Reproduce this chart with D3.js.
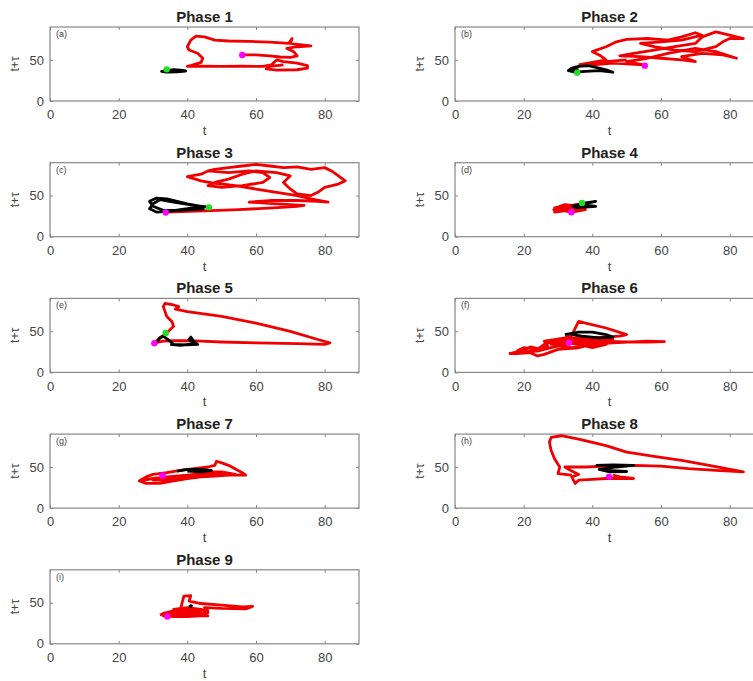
<!DOCTYPE html>
<html>
<head>
<meta charset="utf-8">
<script src="https://cdn.jsdelivr.net/npm/d3@7"></script>
<style>
  body { margin: 0; background: #fff; }
  svg { font-family: "Liberation Sans", Helvetica, Arial, sans-serif; }
  .tick text { fill: #444; font-size: 13px; }
  .tick line { stroke: #888; }
  .domain { display: none; }
</style>
</head>
<body>
<svg width="753" height="681"></svg>
<script>
// phase titles and panel letters
var phases = ["Phase 1", "Phase 2", "Phase 3", "Phase 4", "Phase 5", "Phase 6", "Phase 7", "Phase 8", "Phase 9"];
var letters = ["(a)", "(b)", "(c)", "(d)", "(e)", "(f)", "(g)", "(h)", "(i)"];
var xTicks = [0, 20, 40, 60, 80];
var yTicks = [0, 50];

// red trajectories [t, t+tau]
var red1 = [[55.4,56],[60,56],[64,55],[67,53.5],[70,53],[72,55],[71,60],[69,64],[72,66],[76,67],[72,69],[70,70],[70.5,76],[69.5,70],[64,71.5],[58,72.5],[52,73],[48,74],[45,78],[42.5,79],[41,74],[40,66],[40.5,62],[43,58],[44.5,52],[44,47],[41,43],[40,42],[44,42.5],[50,42],[56,42.5],[62,42],[64.5,44],[66,50],[68,48],[72,46],[75,43],[75,40],[72,38],[66,37.5],[63,39],[64,42],[68,44]];
var red2 = [[36,44],[40,47],[44,50],[42,56],[40,60],[44,66],[47,72],[50,75],[56,76],[62,74],[66,78],[70,83],[72,80],[66,74],[60,72],[54,70],[58,66],[64,62],[70,60],[76,66],[78,72],[80,76],[84,76],[80,80],[76,84],[72,78],[70,70],[64,66],[58,62],[52,58],[48,55],[54,54],[60,52],[66,50],[70,48],[66,54],[72,58],[78,56],[82,52],[76,60],[70,64],[62,58],[56,52],[50,48],[55,44],[46,46],[40,44],[44,48],[50,50]];
var red3 = [[33.7,30],[45,31.5],[55,33],[65,35],[72,37],[74,38],[66,40],[58,42],[64,44],[72,44],[78,43],[81,42],[76,46],[72,50],[66,54],[60,58],[54,62],[48,65],[44,68],[40,73],[44,76],[46,80],[48,82],[52,84],[56,86],[60,88],[64,86],[68,84],[72,85],[76,82],[80,84],[82,80],[84,74],[86,68],[84,64],[80,60],[78,54],[76,50],[72,52],[70,58],[68,66],[70,74],[66,78],[60,80],[56,76],[52,70],[48,66],[46,62],[50,60],[56,62],[62,66],[64,72],[62,78],[58,80],[52,78],[46,80]];
var red4 = [[28.5,32],[30,36],[32,39],[34,38],[36,39.5],[38,38],[37,35],[34,33],[31,31],[29,30],[33,32],[36,34],[35,37],[31,37],[29,35],[32,34],[36,36],[38,33],[34,30],[30,33],[33,36],[37,37],[35,31],[31,34],[29,33],[32,38],[36,38]];
var red5 = [[30.5,36],[32,42],[34,48],[36,56],[35.5,62],[34,68],[33.5,74],[33,80],[33.5,84],[36,82],[37.5,80],[36.5,77],[40,74],[50,68],[60,60],[70,50],[78,40],[81.5,36],[80,34],[72,35],[60,36],[50,37],[44,38],[40,38.5],[36,38.5],[33,38],[30.5,36]];
var red6 = [[16,23],[20,27],[22,31],[25,28],[27,32],[26,38],[29,40],[32,42],[34,45],[36,62],[38,60],[44,54],[50,46],[48,44],[40,42],[35,40],[42,38],[50,37],[56,37],[61,37.5],[56,38],[46,36],[40,34],[36,30],[30,28],[26,22],[24,20],[22,24],[18,23],[16,23],[20,25],[24,26],[28,30],[32,34],[36,38],[40,40],[44,38],[40,36],[34,36],[30,32],[34,30],[38,32],[42,34],[38,38],[34,40],[30,38],[28,34],[32,36],[36,34],[40,30],[44,34],[46,40],[42,42],[36,42],[30,40],[26,34],[24,28],[20,30],[18,26]];
var red7 = [[26,33],[28,38],[30,41],[34,43],[38,46],[42,48],[46,50],[48,52],[48.5,57],[50,55],[52,52],[56,43],[57,40],[52,40],[48,39],[44,38],[40,36],[36,33],[32,30],[28,30],[26,33],[30,36],[34,38],[40,40],[44,42],[46,44],[50,44],[54,41],[48,41],[42,40],[36,36],[30,34],[34,34],[38,38]];
var red8 = [[34,40],[30,42],[30.5,50],[29,60],[28,70],[27.5,80],[28,86],[31,88],[36,84],[44,76],[50,68],[58,63],[66,58],[74,52],[84,44],[76,46],[68,48],[60,51],[52,52],[44,51],[38,50],[32,50],[34,45],[36,41],[34,38],[35,30],[36,34],[40,35],[44,36],[48,36],[52,36],[48,38],[46,40]];
var red9 = [[32,35],[34,38],[36,40],[38,42],[38.5,50],[39,58],[41,58.5],[40.5,52],[44,49],[50,47],[56,45],[59,45.5],[57,42.5],[50,43],[45,44],[46,40],[44,34],[40,33],[36,33],[33,34],[36,36],[40,38],[44,36],[42,40],[38,40],[36,42],[40,44],[44,42],[46,38],[42,36],[38,36],[34,36],[36,38],[42,38],[44,40],[40,42],[36,40],[33,37],[38,34],[44,36],[46,34],[42,34],[38,38]];

// black trajectories
var black1 = [[32.5,36],[34,37],[36,38],[38,37.5],[39.5,36.5],[37,35.5],[34,35],[32.5,36],[35,36.5],[38,36]];
var black2 = [[33,37],[34,40],[36,42],[39,43],[41,41],[44,38],[46,35],[42,37],[38,36],[35,35],[33,37],[36,38]];
var black3 = [[47,35.5],[42,38],[36,42],[32,45],[30,40],[29,34],[31,30],[35,31],[40,34],[44,37],[40,40],[34,46],[31,47],[29,43],[30,37],[33,32],[38,32],[45,34]];
var black4 = [[34,37],[37,40],[40,42],[41,43],[38,41],[36,39],[39,38],[41,37],[38,36],[35,35.5],[39,39]];
var black5 = [[31,36],[32,42],[33,44],[35,38],[36,34],[40,33.5],[43,34],[42,37],[41,43],[40.5,40],[42,35],[38,33],[35,34]];
var black6 = [[32,46],[36,49],[40,49],[44,46],[46,43],[42,42],[37,44],[34,46]];
var black7 = [[37,45],[40,47],[44,47],[47,46],[44,44],[40,45]];
var black8 = [[41,52],[46,52.5],[52,52],[47,50],[42,47],[45,44],[50,44.5],[44,46]];
var black9 = [[40.5,45],[41,46.5],[41.5,45.5]];

// start (green) and end (magenta) markers
var greenPts = [[34,38.5],[35.6,34.5],[46.3,35.7],[37,41],[33.7,48],null,null,null,null];
var magentaPts = [[56,56],[55.3,43],[33.7,29.5],[33.9,29.8],[30.4,35.5],[33.2,36],[32.8,39.6],[44.9,38],[34.2,33.3]];

var reds = [red1, red2, red3, red4, red5, red6, red7, red8, red9];
var blacks = [black1, black2, black3, black4, black5, black6, black7, black8, black9];

var svg = d3.select("svg");
var colX = [50, 455], pw = 309, ph = 74;

phases.forEach(function(title, i) {
  var left = colX[i % 2],
      top = 27 + Math.floor(i / 2) * 135.7;

  var x = d3.scaleLinear().domain([0, 90]).range([0, pw]),
      y = d3.scaleLinear().domain([0, 90]).range([ph, 0]);

  var g = svg.append("g")
      .attr("transform", "translate(" + left + "," + top + ")");

  g.append("rect")
      .attr("width", pw).attr("height", ph)
      .attr("fill", "#fff").attr("stroke", "#888").attr("stroke-width", 1.2);

  g.append("g")
      .attr("transform", "translate(0," + ph + ")")
      .call(d3.axisBottom(x).tickValues(xTicks).tickSizeInner(-3).tickSizeOuter(0).tickPadding(9));
  g.append("g")
      .call(d3.axisTop(x).tickValues(xTicks).tickSizeInner(-3).tickSizeOuter(0).tickFormat(""));
  g.append("g")
      .call(d3.axisLeft(y).tickValues(yTicks).tickSizeInner(-3).tickSizeOuter(0).tickPadding(6));
  g.append("g")
      .attr("transform", "translate(" + pw + ",0)")
      .call(d3.axisRight(y).tickValues(yTicks).tickSizeInner(-3).tickSizeOuter(0).tickFormat(""));

  var line = d3.line()
      .x(function(d) { return x(d[0]); })
      .y(function(d) { return y(d[1]); });

  g.append("path")
      .datum(reds[i])
      .attr("d", line)
      .attr("fill", "none").attr("stroke", "#f00000")
      .attr("stroke-width", 2.8).attr("stroke-linejoin", "round");

  g.append("path")
      .datum(blacks[i])
      .attr("d", line)
      .attr("fill", "none").attr("stroke", "#000")
      .attr("stroke-width", 2.8).attr("stroke-linejoin", "round");

  if (greenPts[i]) {
    g.append("circle")
        .attr("cx", x(greenPts[i][0])).attr("cy", y(greenPts[i][1]))
        .attr("r", 3.2).attr("fill", "#22dd22");
  }
  g.append("circle")
      .attr("cx", x(magentaPts[i][0])).attr("cy", y(magentaPts[i][1]))
      .attr("r", 3.2).attr("fill", "#ff00ff");

  g.append("text")
      .attr("x", 6).attr("y", 10)
      .attr("font-size", 9).attr("fill", "#444")
      .text(letters[i]);

  g.append("text")
      .attr("x", pw / 2).attr("y", -5)
      .attr("text-anchor", "middle")
      .attr("font-size", 15).attr("font-weight", "bold").attr("fill", "#222")
      .text(title);

  g.append("text")
      .attr("x", pw / 2).attr("y", ph + 34)
      .attr("text-anchor", "middle")
      .attr("font-size", 13).attr("fill", "#444")
      .text("t");

  g.append("text")
      .attr("transform", "translate(-31," + (ph / 2) + ") rotate(-90)")
      .attr("text-anchor", "middle")
      .attr("font-size", 12).attr("fill", "#444")
      .text("t+τ");
});
</script>
</body>
</html>
